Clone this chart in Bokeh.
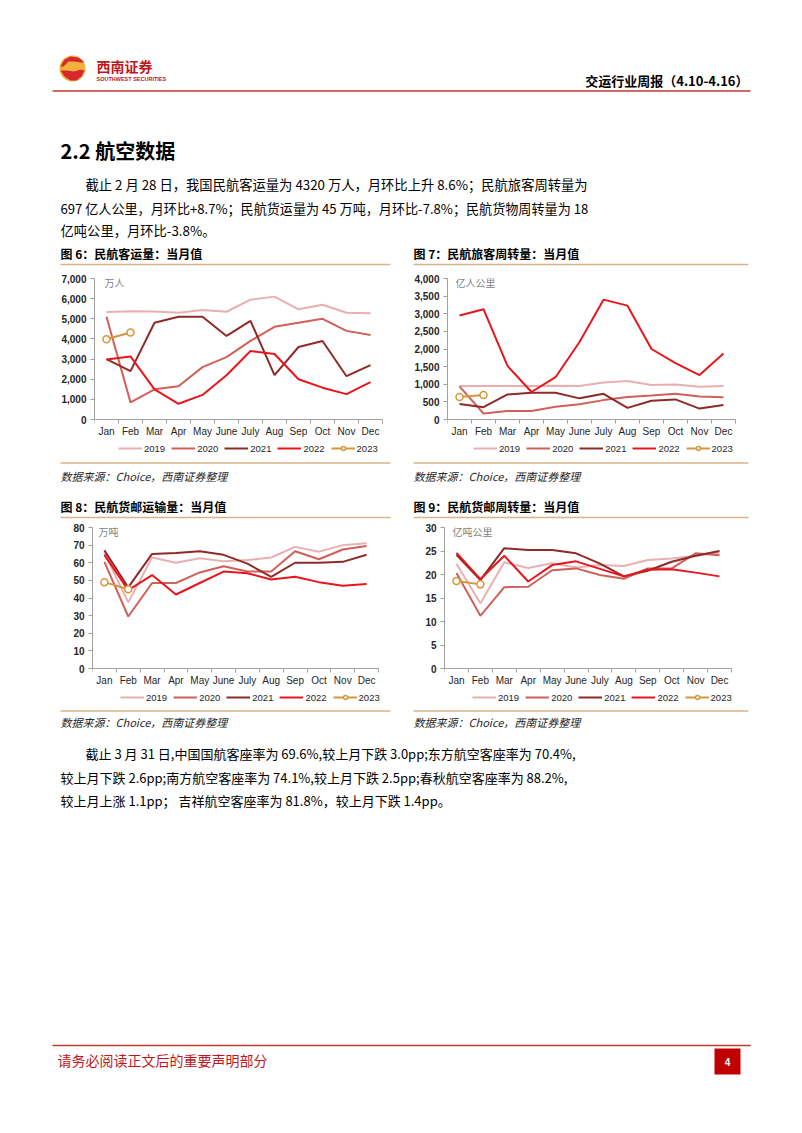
from bokeh.plotting import figure
from bokeh.layouts import column, row
from bokeh.models import Range1d, FixedTicker, Legend, LegendItem, Label, NumeralTickFormatter
from bokeh.core.properties import value
from bokeh.embed import file_html
from bokeh.resources import INLINE

months = ["Jan", "Feb", "Mar", "Apr", "May", "June", "July", "Aug", "Sep", "Oct", "Nov", "Dec"]
years = ["2019", "2020", "2021", "2022", "2023"]

# 图6 民航客运量 (万人)
pax_2019 = [5340, 5380, 5360, 5300, 5440, 5350, 5950, 6100, 5470, 5700, 5300, 5270]
pax_2020 = [5100, 850, 1500, 1650, 2600, 3100, 3900, 4600, 4800, 5000, 4400, 4200]
pax_2021 = [3000, 2400, 4800, 5100, 5100, 4150, 4900, 2200, 3600, 3900, 2150, 2700]
pax_2022 = [2980, 3130, 1500, 780, 1220, 2200, 3400, 3250, 2000, 1580, 1260, 1860]
pax_2023 = [3980, 4320]

# 图7 民航旅客周转量 (亿人公里)
rpk_2019 = [950, 950, 950, 950, 960, 950, 1050, 1090, 980, 990, 930, 950]
rpk_2020 = [940, 170, 240, 240, 360, 430, 550, 640, 680, 730, 650, 630]
rpk_2021 = [440, 350, 710, 760, 760, 600, 730, 330, 530, 570, 310, 410]
rpk_2022 = [2950, 3130, 1520, 780, 1200, 2200, 3400, 3230, 2000, 1600, 1260, 1870]
rpk_2023 = [640, 697]

# 图8 民航货邮运输量 (万吨)
cargo_2019 = [65.5, 37.5, 63, 60, 62.5, 60.8, 61.5, 63, 69, 66.3, 70, 71]
cargo_2020 = [60.5, 29.5, 48.5, 48.5, 54.5, 58, 55, 55, 66.5, 62, 67.5, 69.5]
cargo_2021 = [67, 46, 65, 65.5, 66.5, 64.5, 59.5, 52, 60, 60, 60.5, 64.5]
cargo_2022 = [64.5, 44.5, 53, 42, 48.5, 55, 54, 50.5, 52, 49, 47, 48]
cargo_2023 = [49, 45]

# 图9 民航货邮周转量 (亿吨公里)
ftk_2019 = [22.3, 13.9, 22.6, 21.4, 22.4, 21.5, 22, 21.8, 23.1, 23.4, 24, 24.6]
ftk_2020 = [20.3, 11.2, 17.3, 17.4, 20.9, 21.3, 19.9, 19.1, 21.3, 21.3, 24.5, 24.1]
ftk_2021 = [24.2, 18.8, 25.6, 25.2, 25.2, 24.5, 22.3, 19.6, 20.8, 22.7, 24, 25]
ftk_2022 = [24.6, 19, 24, 18.5, 22, 22.8, 21.2, 19.6, 21, 21.1, 20.4, 19.6]
ftk_2023 = [18.6, 17.9]

colors = ["#e8b0b0", "#d0605a", "#8e2a28", "#e8161c", "#d6963a"]

CJK = "Noto Sans CJK SC"
LAT = "Liberation Sans"
GOLD = "#d9b48a"
RED = "#c0161d"
W = 800
PLOT_H = 141   # pixels from 0 to ymax
EXTRA = 36     # pixels below 0 kept inside the frame for month labels and legend
PAD_R = 12     # extra frame pixels right of Dec so the legend is not clipped


def make_chart(series, ymax, ystep, unit, unit_x, fig_w, bl, br, bt, bb, fig_h, lx):
    ymin = -ymax * EXTRA / PLOT_H
    fw = fig_w - bl - br
    xend = 12.5 + PAD_R * 12.0 / fw
    p = figure(width=fig_w, height=fig_h, x_range=Range1d(0.5, xend), y_range=Range1d(ymin, ymax),
               output_backend="svg", toolbar_location=None,
               min_border_left=bl, min_border_right=br - PAD_R, min_border_top=bt, min_border_bottom=bb)
    p.outline_line_color = None
    p.xgrid.grid_line_color = None
    p.ygrid.grid_line_color = None
    p.background_fill_color = "white"
    p.border_fill_color = "white"
    xs = list(range(1, 13))
    xa = p.xaxis[0]
    xa.fixed_location = 0
    xa.bounds = (0.5, 12.5)
    xa.ticker = FixedTicker(ticks=xs, minor_ticks=[i + 0.5 for i in range(0, 13)])
    xa.major_label_overrides = {i: m for i, m in zip(xs, months)}
    xa.major_tick_line_color = None
    xa.major_tick_out = 0
    xa.major_tick_in = 0
    xa.minor_tick_out = 4
    xa.minor_tick_in = 0
    xa.minor_tick_line_color = "#a0a0a0"
    xa.axis_line_color = "#a0a0a0"
    xa.major_label_standoff = 2
    xa.major_label_text_font = LAT
    xa.major_label_text_font_size = "10px"
    xa.major_label_text_color = "#262626"
    ya = p.yaxis[0]
    ya.bounds = (0, ymax)
    ya.ticker = FixedTicker(ticks=list(range(0, ymax + 1, ystep)), minor_ticks=[])
    ya.formatter = NumeralTickFormatter(format="0,0")
    ya.major_tick_out = 4
    ya.major_tick_in = 0
    ya.major_tick_line_color = "#a0a0a0"
    ya.axis_line_color = "#a0a0a0"
    ya.major_label_standoff = 4
    ya.major_label_text_font = LAT
    ya.major_label_text_font_size = "10px"
    ya.major_label_text_font_style = "bold"
    ya.major_label_text_color = "#262626"

    items = []
    for yr, vals, c in zip(years, series, colors):
        xv = xs[:len(vals)]
        r = p.line(x=xv, y=vals, line_color=c, line_width=2)
        rs = [r]
        if yr == "2023":
            s = p.scatter(x=xv, y=vals, marker="circle", size=7, fill_color="white",
                          line_color=c, line_width=1.5)
            rs.append(s)
        items.append(LegendItem(label=yr, renderers=rs))
    leg = Legend(items=items, orientation="horizontal", location=(lx, 1), glyph_width=24,
                 glyph_height=10, label_standoff=2, spacing=6, padding=0, margin=0,
                 border_line_color=None, background_fill_alpha=0,
                 label_text_font=LAT, label_text_font_size="9.5px", label_text_color="#262626",
                 label_height=12, label_width=10)
    p.add_layout(leg)
    p.add_layout(Label(x=unit_x, y=ymax * 0.975, text=unit, text_font=CJK, text_font_size="10px",
                       text_color="#7f7f7f", text_baseline="middle"))
    return p


def deco(y0, y1):
    p = figure(width=W, height=y1 - y0, x_range=Range1d(0, W), y_range=Range1d(y1, y0),
               output_backend="svg", toolbar_location=None, x_axis_type=None, y_axis_type=None,
               min_border_left=0, min_border_right=0, min_border_top=0, min_border_bottom=0)
    p.outline_line_color = None
    p.grid.visible = False
    p.background_fill_color = "white"
    p.border_fill_color = "white"
    return p


def txt(p, x, y, s, size, color="#000000", style="normal", align="left", font=CJK):
    p.text(x=[x], y=[y], text=[s], text_font=value(font), text_font_size=value(f"{size}px"),
           text_color=color, text_font_style=style, text_align=align, text_baseline="middle")


def hline(p, x0, x1, y, color, w=1.5):
    p.line(x=[x0, x1], y=[y, y], line_color=color, line_width=w)


# ---- top section (page y 0..268)
top = deco(0, 268)
top.scatter(x=[72], y=[68], marker="circle", size=26, fill_color="#f1b23c", line_color=None)
top.patch(x=[60, 64, 70, 78, 84, 80, 74, 68, 63], y=[66, 59, 56, 57, 62, 62, 61, 61, 66],
          fill_color="#d7282f", line_color=None)
top.patch(x=[60, 66, 74, 80, 84, 81, 76, 70, 64], y=[70, 70, 71, 69, 70, 76, 80, 80, 76],
          fill_color="#d7282f", line_color=None)
txt(top, 96, 65, "西南证券", 14, RED, "bold")
txt(top, 96, 78, "SOUTHWEST SECURITIES", 5.5, RED, "bold", font=LAT)
txt(top, 748, 80, "交运行业周报（4.10-4.16）", 13, "#000000", "bold", "right")
hline(top, 52, 750, 90.5, "#c0392b", 1.5)
txt(top, 60, 150, "2.2 航空数据", 20, "#000000", "bold")
txt(top, 85, 184, "截止 2 月 28 日，我国民航客运量为 4320 万人，月环比上升 8.6%；民航旅客周转量为", 13.3)
txt(top, 60, 208, "697 亿人公里，月环比+8.7%；民航货运量为 45 万吨，月环比-7.8%；民航货物周转量为 18", 13.1)
txt(top, 60, 230, "亿吨公里，月环比-3.8%。", 13.3)
txt(top, 60, 253, "图 6：民航客运量：当月值", 12, "#000000", "bold")
txt(top, 413, 253, "图 7：民航旅客周转量：当月值", 12, "#000000", "bold")
hline(top, 60, 390, 264, GOLD)
hline(top, 413, 748, 264, GOLD)

# ---- charts 6 & 7 (page y 268..460); frame 278..455, zero line at 419
c6 = make_chart([pax_2019, pax_2020, pax_2021, pax_2022, pax_2023], 7000, 1000, "万人", 0.92,
                400, 94, 18, 10, 5, 192, 24)
c7 = make_chart([rpk_2019, rpk_2020, rpk_2021, rpk_2022, rpk_2023], 4000, 500, "亿人公里", 0.83,
                400, 47, 65, 10, 5, 192, 26)

# ---- middle section (page y 460..520)
mid = deco(460, 520)
hline(mid, 60, 390, 462.5, GOLD)
hline(mid, 413, 748, 462.5, GOLD)
txt(mid, 60, 475, "数据来源：Choice，西南证券整理", 11, "#262626", "italic")
txt(mid, 413, 475, "数据来源：Choice，西南证券整理", 11, "#262626", "italic")
txt(mid, 60, 506, "图 8：民航货邮运输量：当月值", 12, "#000000", "bold")
txt(mid, 413, 506, "图 9：民航货邮周转量：当月值", 12, "#000000", "bold")
hline(mid, 60, 390, 517, GOLD)
hline(mid, 413, 748, 517, GOLD)

# ---- charts 8 & 9 (page y 520..709); frame 527..704, zero line at 668
c8 = make_chart([cargo_2019, cargo_2020, cargo_2021, cargo_2022, cargo_2023], 80, 10, "万吨", 0.75,
                400, 92, 22, 7, 5, 189, 28)
c9 = make_chart([ftk_2019, ftk_2020, ftk_2021, ftk_2022, ftk_2023], 30, 5, "亿吨公里", 0.83,
                400, 44, 69, 7, 5, 189, 28)

# ---- bottom section (page y 709..1125)
bot = deco(709, 1125)
hline(bot, 60, 390, 710.5, GOLD)
hline(bot, 413, 748, 710.5, GOLD)
txt(bot, 60, 721, "数据来源：Choice，西南证券整理", 11, "#262626", "italic")
txt(bot, 413, 721, "数据来源：Choice，西南证券整理", 11, "#262626", "italic")
txt(bot, 85, 753, "截止 3 月 31 日,中国国航客座率为 69.6%,较上月下跌 3.0pp;东方航空客座率为 70.4%,", 13)
txt(bot, 60, 777, "较上月下跌 2.6pp;南方航空客座率为 74.1%,较上月下跌 2.5pp;春秋航空客座率为 88.2%,", 13)
txt(bot, 60, 800, "较上月上涨 1.1pp； 吉祥航空客座率为 81.8%，较上月下跌 1.4pp。", 13)
hline(bot, 52, 750, 1045, "#c0392b", 1.5)
txt(bot, 57, 1059, "请务必阅读正文后的重要声明部分", 14, RED)
bot.quad(left=[714], right=[740], top=[1048], bottom=[1074], fill_color="#c00000", line_color=None)
txt(bot, 727, 1061, "4", 10, "#ffffff", "bold", "center", LAT)

page = column(top, row(c6, c7, spacing=0), mid, row(c8, c9, spacing=0), bot, spacing=0)

open("out.html", "w").write(file_html(page, INLINE))
